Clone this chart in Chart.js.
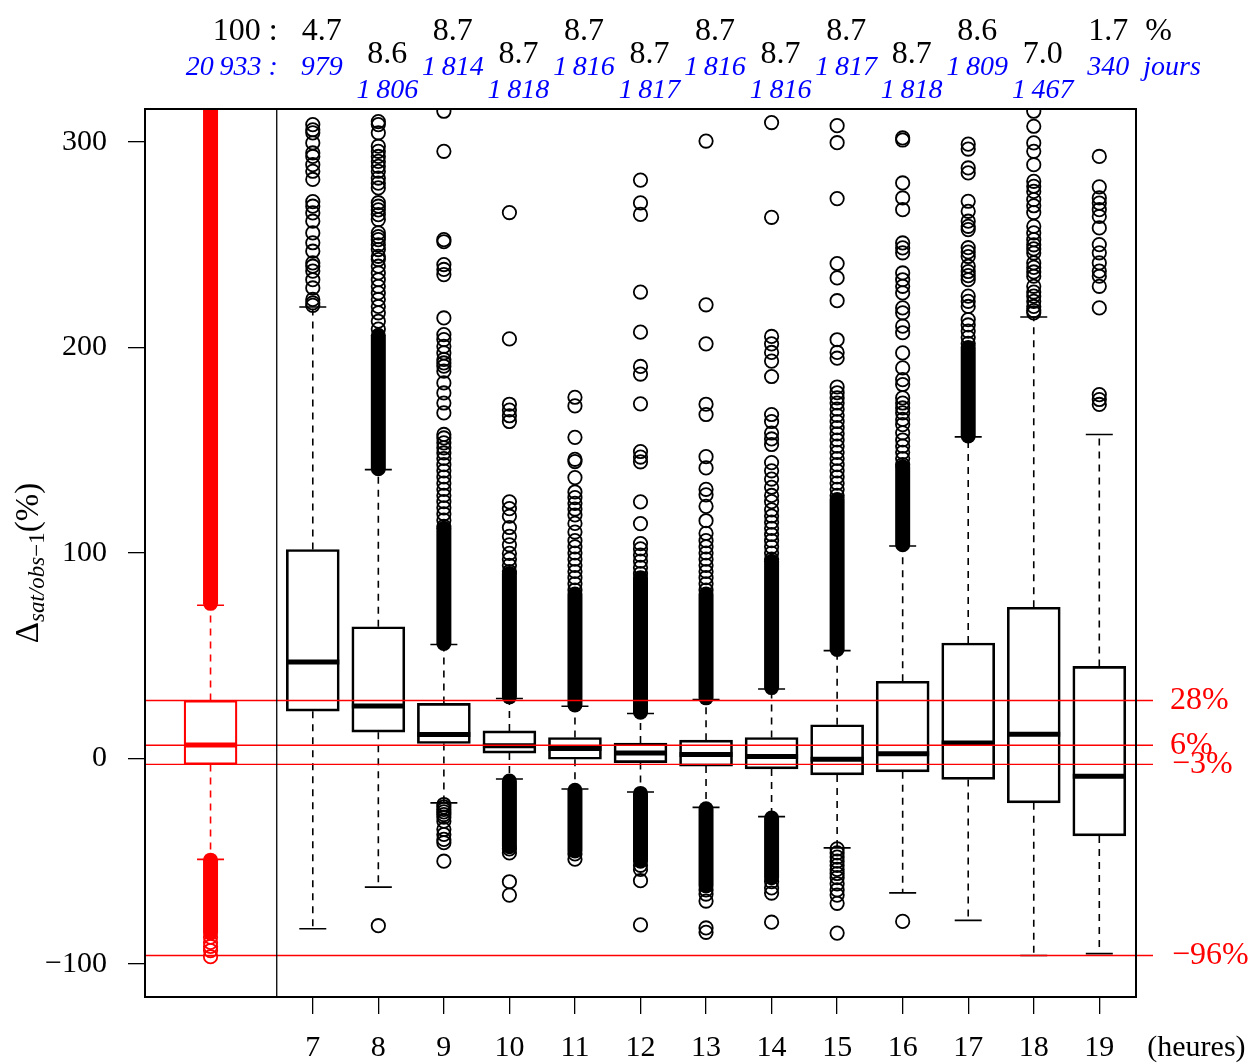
<!DOCTYPE html>
<html>
<head>
<meta charset="utf-8">
<script src="https://cdn.jsdelivr.net/npm/chart.js@4.4.1/dist/chart.umd.min.js"></script>
<style>
  html, body { margin: 0; padding: 0; background: #fff; }
  canvas { display: block; }
</style>
</head>
<body>
<canvas id="chart" width="1257" height="1063"></canvas>
<script>
// hourly boxplots, Delta sat/obs-1 (%)
const hours = [7, 8, 9, 10, 11, 12, 13, 14, 15, 16, 17, 18, 19];
const q1 = [23, 12.8, 7.3, 2.6, -0.4, -2.0, -3.7, -5.1, -8.0, -6.5, -10.2, -21.6, -37.7];
const med = [46.9, 25.5, 11.7, 6.2, 4.9, 2.6, 1.9, 1.0, -0.4, 2.3, 7.5, 11.8, -8.6];
const q3 = [101.7, 64.1, 26.8, 13.4, 10.2, 7.5, 8.9, 10.2, 16.4, 37.6, 56.2, 73.6, 44.8];
const whiskLo = [-82.9, -62.6, -21.6, -10, -14.9, -16.3, -23.8, -28.3, -43.5, -65.4, -78.8, -95.9, -95];
const whiskHi = [219.7, 140.6, 55.5, 29.2, 25.4, 21.9, 28.7, 33.8, 52.5, 103.4, 156.5, 214.9, 157.7];

const outHi = [
  [308.5, 306, 304.5, 299.6, 294.7, 293, 289, 285.8, 281.8, 271, 268.8, 265.5, 261.5, 255.8, 251, 246.9, 241.2, 239.6, 237.2, 233, 229, 223.4, 221.7, 220.5],
  [310, 308.5, 304.5, 298, 295.5, 293, 290.6, 288.2, 285.8, 282.5, 280, 277.7, 270.5, 268.8, 267, 264.7, 262.3, 255.8, 254, 252.5, 250, 247.7, 244.4, 242.8, 239.6, 236.3, 233, 229.8, 226.6, 223.4, 220, 216.9, 212.8, 209],
  [315, 295.5, 252.5, 251.5, 240.4, 238, 235.5, 214.4, 206.3, 203.9, 200.6, 197.4, 194.2, 192.5, 190.9, 188.5, 182.8, 177.9, 173, 168.2, 157.7, 156, 153.6, 151.2, 148.7, 146, 143, 140, 137, 134, 131, 128, 125, 122, 119, 116, 113],
  [265.7, 204.2, 172.4, 169.6, 166.8, 164, 124.9, 121.6, 117.9, 112.4, 108.1, 104, 99.8, 97, 94, 91],
  [175.8, 171.6, 156.3, 145.6, 144.5, 136.7, 129.7, 127, 124.2, 121.4, 118.5, 114.4, 110.2, 106, 103, 100, 97, 94, 91, 88, 85, 82],
  [281.5, 270.4, 264.8, 227, 207.5, 190.8, 187.1, 172.6, 149.4, 146.7, 144.4, 124.9, 114.3, 104.6, 102, 99, 96, 93, 90],
  [300.5, 220.8, 201.8, 172.4, 167.4, 146.9, 141.4, 131, 128.3, 122.7, 115.7, 109.6, 106, 103, 100, 97, 94, 91, 88, 85, 82],
  [309.5, 263.4, 205.4, 201.8, 197.6, 193.4, 185.9, 167.4, 164, 158.4, 155.5, 152.8, 144, 140, 136, 132, 128, 125, 121, 118, 115, 112, 109, 106, 103, 100, 97],
  [308, 299.7, 272.5, 240.9, 233.9, 222.8, 203.8, 197.6, 194.8, 180.8, 178, 175.5, 173, 170, 167, 164, 161, 158, 155, 152, 149, 146, 143, 140, 137, 134, 131, 128],
  [302, 301, 280.1, 272.8, 267.1, 250.9, 248.5, 246.1, 236.3, 233, 229.8, 226.6, 219.3, 216.9, 210.4, 207.2, 197.4, 190.1, 184.4, 182, 175.5, 173, 170.6, 168.2, 165, 162.5, 158.5, 155, 152, 149, 146, 143],
  [299, 296.6, 287.4, 285, 271.2, 266.3, 261.5, 259, 257.4, 248.6, 246.5, 244.3, 239.6, 237, 235, 233, 225, 222.5, 220, 213.6, 211, 208, 205, 202],
  [315, 307.7, 299.6, 295.5, 289, 280.9, 278.5, 276, 272, 269, 265.7, 259, 255.8, 252.5, 250, 248, 246, 241.2, 239, 236.8, 234.7, 229.8, 227, 225, 222.5, 220, 218, 216.9],
  [293, 278.2, 272.8, 270.3, 267.1, 263.8, 258.2, 250.1, 246.1, 241.2, 237.2, 234.7, 229.8, 219.3, 177.1, 174.7, 172.3]
];
const outLo = [
  [],
  [-81.4],
  [-22.4, -23.6, -24.8, -26, -27.3, -28.6, -30.5, -34.5, -37, -39.4, -41, -50],
  [-44, -46, -60, -66.5],
  [-46.5, -49],
  [-52, -54, -59.5, -81],
  [-64, -66, -69.4, -82.5, -84.6],
  [-60, -63, -65.5, -79.7],
  [-44, -46, -48, -50, -52, -54, -56, -58, -61, -64, -66.5, -70.5, -85],
  [-79.3],
  [],
  [],
  []
];
// ranges where the outlier circles overlap into a solid column
const denseHi = [null, [141, 206], [56, 112], [30, 90], [26, 80], [22.5, 88], [29.5, 80], [34.5, 96], [53, 126], [104, 142], [157, 200], null, null];
const denseLo = [null, null, null, [-11, -43], [-15.5, -45], [-17, -50], [-24.5, -62], [-29, -58], null, null, null, null, null];

// all hours together (red): lo, q1, median, q3, hi
const allStats = [-49.1, -2.9, 6.5, 28.2, 74.6];
const allOutLo = [-87, -89.5, -91.5, -93.5, -96.5];
const allDenseHi = [75.5, 320];
const allDenseLo = [-49.5, -85];

const refLines = [28.2, 6.4, -2.9, -95.9];
const refLabels = ['28%', '6%', '\u22123%', '\u221296%'];

const shares = [4.7, 8.6, 8.7, 8.7, 8.7, 8.7, 8.7, 8.7, 8.7, 8.7, 8.6, 7.0, 1.7];
const days = [979, 1806, 1814, 1818, 1816, 1817, 1816, 1816, 1817, 1818, 1809, 1467, 340];
const totalShare = 100;
const totalDays = 20933;
const yTicks = [-100, 0, 100, 200, 300];

const allPos = 5.44;
const dividerPos = 6.45;
const SERIF = '"Liberation Serif", "DejaVu Serif", serif';

function fmtDays(n) {
  return n >= 1000 ? Math.floor(n / 1000) + '\u2009' + String(n % 1000).padStart(3, '0') : String(n);
}

function drawBoxParts(ctx, x, y, xv, stats, color, halfCap) {
  const [lo, b1, , b3, hi] = stats;
  const px = x.getPixelForValue(xv);
  ctx.strokeStyle = color;
  ctx.lineWidth = 1.6;
  ctx.setLineDash([7, 6]);
  ctx.beginPath();
  ctx.moveTo(px, y.getPixelForValue(b3)); ctx.lineTo(px, y.getPixelForValue(hi));
  ctx.moveTo(px, y.getPixelForValue(b1)); ctx.lineTo(px, y.getPixelForValue(lo));
  ctx.stroke();
  ctx.setLineDash([]);
  ctx.beginPath();
  [lo, hi].forEach(v => {
    ctx.moveTo(px - halfCap, y.getPixelForValue(v));
    ctx.lineTo(px + halfCap, y.getPixelForValue(v));
  });
  ctx.stroke();
}

function drawDense(ctx, x, y, xv, range, color) {
  if (!range) return;
  const px = x.getPixelForValue(xv);
  ctx.strokeStyle = color;
  ctx.lineWidth = 15;
  ctx.lineCap = 'round';
  ctx.beginPath();
  ctx.moveTo(px, y.getPixelForValue(range[0]));
  ctx.lineTo(px, y.getPixelForValue(range[1]));
  ctx.stroke();
  ctx.lineCap = 'butt';
}

const boxExtras = {
  id: 'boxExtras',
  beforeDatasetsDraw(chart) {
    const { ctx, chartArea: a, scales: { x, y } } = chart;
    ctx.save();
    ctx.beginPath();
    ctx.rect(a.left, a.top, a.right - a.left, a.bottom - a.top);
    ctx.clip();
    hours.forEach((h, i) => {
      drawBoxParts(ctx, x, y, h, [whiskLo[i], q1[i], med[i], q3[i], whiskHi[i]], '#000', 13.5);
      drawDense(ctx, x, y, h, denseHi[i], '#000');
      drawDense(ctx, x, y, h, denseLo[i], '#000');
    });
    drawBoxParts(ctx, x, y, allPos, allStats, '#f00', 13.5);
    drawDense(ctx, x, y, allPos, allDenseHi, '#f00');
    drawDense(ctx, x, y, allPos, allDenseLo, '#f00');
    ctx.restore();
  },
  afterDatasetsDraw(chart) {
    const { ctx, chartArea: a, scales: { x, y } } = chart;
    ctx.save();
    // medians
    const bars = chart.getDatasetMeta(0).data;
    ctx.lineWidth = 5;
    ctx.strokeStyle = '#000';
    ctx.beginPath();
    hours.forEach((h, i) => {
      const w = bars[i].width / 2, px = x.getPixelForValue(h), py = y.getPixelForValue(med[i]);
      ctx.moveTo(px - w, py); ctx.lineTo(px + w, py);
    });
    ctx.stroke();
    const allBar = chart.getDatasetMeta(1).data[0];
    ctx.strokeStyle = '#f00';
    ctx.beginPath();
    ctx.moveTo(allBar.x - allBar.width / 2, y.getPixelForValue(allStats[2]));
    ctx.lineTo(allBar.x + allBar.width / 2, y.getPixelForValue(allStats[2]));
    ctx.stroke();

    // reference lines and their labels
    ctx.lineWidth = 1.4;
    refLines.forEach((v, i) => {
      const py = y.getPixelForValue(v);
      ctx.beginPath();
      ctx.moveTo(a.left, py); ctx.lineTo(a.right + 17, py);
      ctx.stroke();
    });
    ctx.fillStyle = '#f00';
    ctx.font = '32px ' + SERIF;
    ctx.textAlign = 'left';
    ctx.textBaseline = 'middle';
    refLines.forEach((v, i) => {
      ctx.fillText(refLabels[i], a.right + (refLabels[i][0] === '\u2212' ? 36 : 34), y.getPixelForValue(v));
    });

    // frame and divider
    ctx.strokeStyle = '#000';
    ctx.lineWidth = 1.3;
    ctx.beginPath();
    ctx.moveTo(x.getPixelForValue(dividerPos), a.top);
    ctx.lineTo(x.getPixelForValue(dividerPos), a.bottom);
    ctx.stroke();
    ctx.lineWidth = 2;
    ctx.strokeRect(a.left, a.top, a.right - a.left, a.bottom - a.top);
    ctx.restore();
  },
  afterDraw(chart) {
    const { ctx, chartArea: a, scales: { x } } = chart;
    ctx.save();
    ctx.textBaseline = 'alphabetic';
    ctx.textAlign = 'center';
    hours.forEach((h, i) => {
      const cx = x.getPixelForValue(h) + 9;
      const upper = i % 2 === 0;
      ctx.fillStyle = '#000';
      ctx.font = '32px ' + SERIF;
      ctx.fillText(shares[i].toFixed(1), cx, upper ? 40 : 63);
      ctx.fillStyle = '#00f';
      ctx.font = 'italic 28px ' + SERIF;
      ctx.fillText(fmtDays(days[i]), cx, upper ? 75 : 98);
    });
    const rx = x.getPixelForValue(dividerPos) + 1;
    ctx.textAlign = 'right';
    ctx.fillStyle = '#000';
    ctx.font = '32px ' + SERIF;
    ctx.fillText(totalShare + ' :', rx, 40);
    ctx.fillStyle = '#00f';
    ctx.font = 'italic 28px ' + SERIF;
    ctx.fillText(fmtDays(totalDays) + ' :', rx, 75);
    const lx = x.getPixelForValue(hours[hours.length - 1]) + 46;
    ctx.textAlign = 'left';
    ctx.fillStyle = '#000';
    ctx.font = '32px ' + SERIF;
    ctx.fillText('%', lx, 40);
    ctx.fillStyle = '#00f';
    ctx.font = 'italic 28px ' + SERIF;
    ctx.fillText('jours', lx - 2, 75);

    // x unit
    ctx.fillStyle = '#000';
    ctx.font = '30px ' + SERIF;
    ctx.textBaseline = 'middle';
    ctx.fillText('(heures)', lx + 2, a.bottom + 17 + 16 + 18);

    // y title with subscript
    ctx.translate(38, 563);
    ctx.rotate(-Math.PI / 2);
    ctx.textBaseline = 'alphabetic';
    const big = '33px ' + SERIF, subI = 'italic 23px ' + SERIF, sub = '23px ' + SERIF;
    ctx.font = big; const w1 = ctx.measureText('\u0394').width, w4 = ctx.measureText('(%)').width;
    ctx.font = subI; const w2 = ctx.measureText('sat/obs').width;
    ctx.font = sub; const w3 = ctx.measureText('\u22121').width;
    let sx = -(w1 + w2 + w3 + w4) / 2;
    ctx.font = big; ctx.fillText('\u0394', sx, 0); sx += w1;
    ctx.font = subI; ctx.fillText('sat/obs', sx, 6); sx += w2;
    ctx.font = sub; ctx.fillText('\u22121', sx, 6); sx += w3;
    ctx.font = big; ctx.fillText('(%)', sx, 0);
    ctx.restore();
  }
};

const outPoints = hours.flatMap((h, i) => outHi[i].concat(outLo[i]).map(v => ({ x: h, y: v })));
const allOutPoints = allOutLo.map(v => ({ x: allPos, y: v }));

new Chart(document.getElementById('chart'), {
  type: 'bar',
  data: {
    datasets: [
      {
        type: 'bar',
        data: hours.map((h, i) => ({ x: h, y: [q1[i], q3[i]] })),
        backgroundColor: 'rgba(0,0,0,0)',
        borderColor: '#000',
        borderWidth: 2,
        borderSkipped: false,
        barThickness: 53,
        grouped: false
      },
      {
        type: 'bar',
        data: [{ x: allPos, y: [allStats[1], allStats[3]] }],
        backgroundColor: 'rgba(0,0,0,0)',
        borderColor: '#f00',
        borderWidth: 1.6,
        borderSkipped: false,
        barThickness: 53,
        grouped: false
      },
      {
        type: 'scatter',
        data: outPoints,
        pointRadius: 6.7,
        pointBorderWidth: 1.8,
        pointBorderColor: '#000',
        pointBackgroundColor: 'rgba(0,0,0,0)'
      },
      {
        type: 'scatter',
        data: allOutPoints,
        pointRadius: 6.7,
        pointBorderWidth: 1.8,
        pointBorderColor: '#f00',
        pointBackgroundColor: 'rgba(0,0,0,0)'
      }
    ]
  },
  options: {
    responsive: false,
    animation: false,
    layout: { padding: { top: 109, right: 121, left: 0, bottom: 0 } },
    plugins: { legend: { display: false }, tooltip: { enabled: false } },
    scales: {
      x: {
        type: 'linear',
        min: 4.44,
        max: 19.56,
        offset: false,
        grid: { offset: false, drawOnChartArea: false, tickLength: 17, color: '#000', lineWidth: 1.3 },
        border: { display: false },
        ticks: { color: '#000', font: { family: SERIF, size: 30 }, padding: 16, maxRotation: 0, autoSkip: false, callback: v => String(v) },
        afterBuildTicks: s => { s.ticks = hours.map(h => ({ value: h })); },
        afterFit: s => { s.height = 66; }
      },
      y: {
        min: -116.1,
        max: 316.1,
        grid: { drawOnChartArea: false, tickLength: 17, color: '#000', lineWidth: 1.3 },
        border: { display: false },
        ticks: { color: '#000', font: { family: SERIF, size: 30 }, padding: 21, callback: v => v < 0 ? '\u2212' + Math.abs(v) : String(v) },
        afterBuildTicks: s => { s.ticks = yTicks.map(v => ({ value: v })); },
        afterFit: s => { s.width = 145; }
      }
    }
  },
  plugins: [boxExtras]
});
</script>
</body>
</html>
